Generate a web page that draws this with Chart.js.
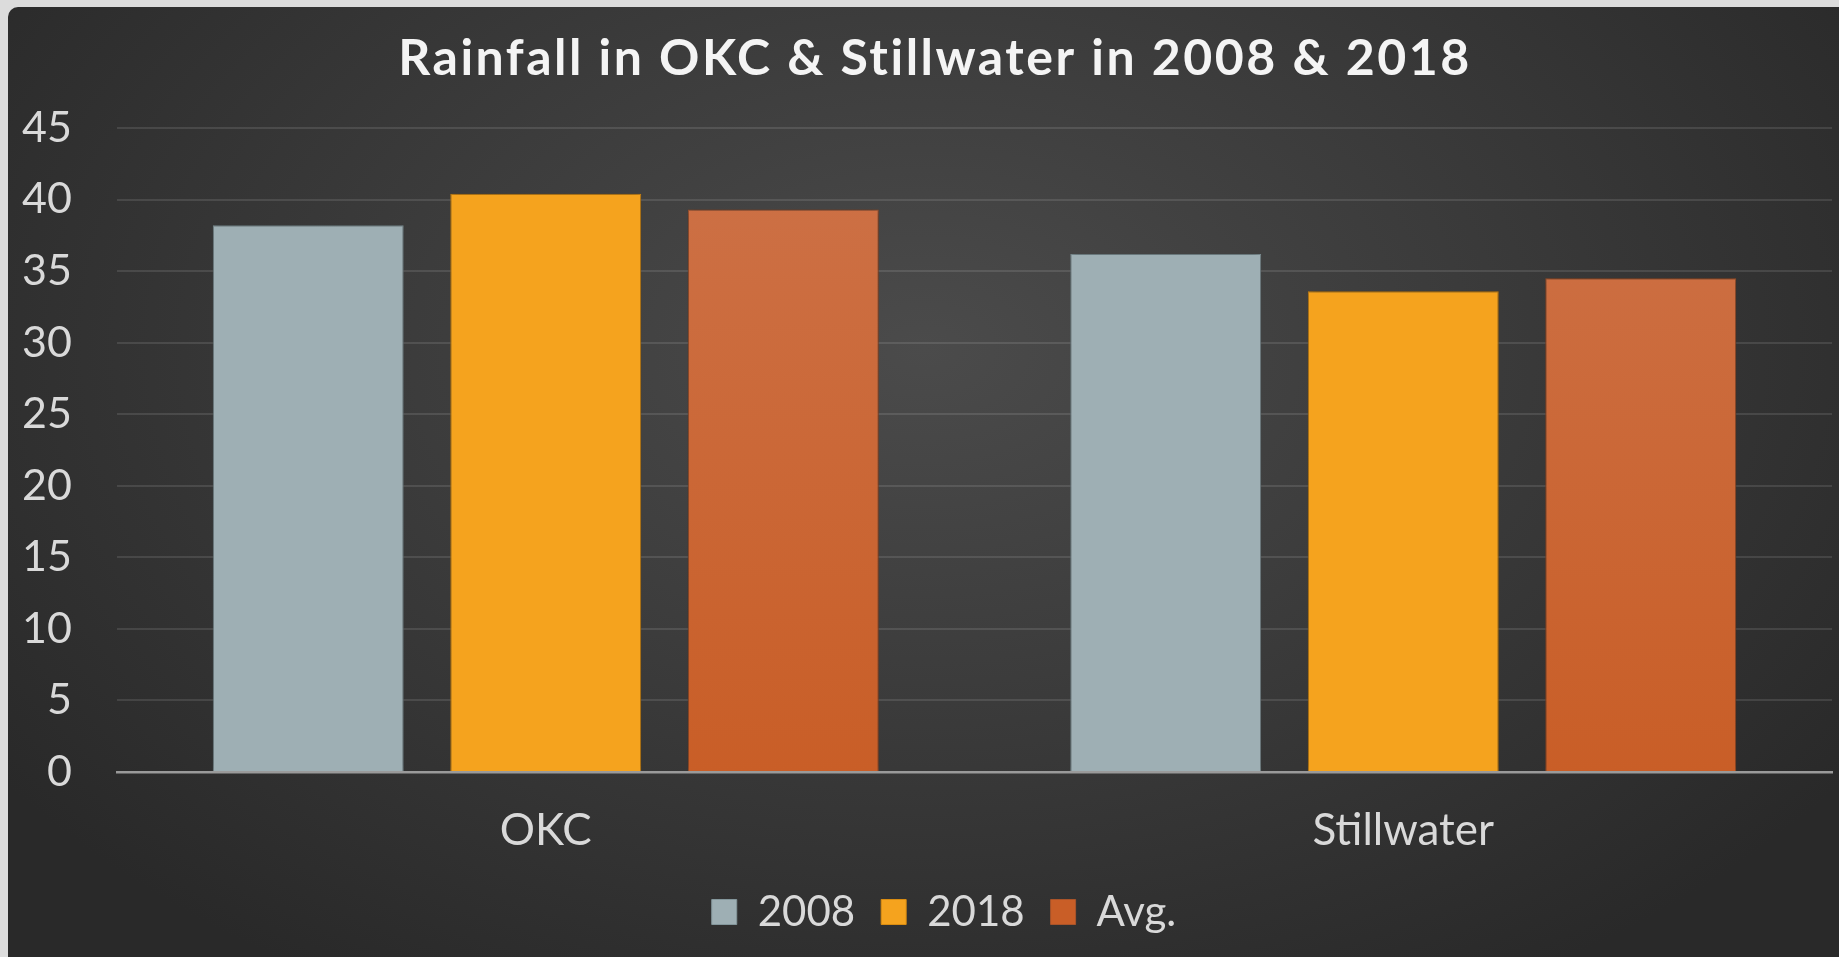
<!DOCTYPE html>
<html>
<head>
<meta charset="utf-8">
<script src="https://cdn.jsdelivr.net/npm/chart.js@4.4.1/dist/chart.umd.min.js"></script>
<style>
  html, body { margin: 0; padding: 0; background: #dcdcdc; overflow: hidden; }
  #panel {
    position: absolute; left: 8px; top: 7px; width: 1831px; height: 950px;
    border-top-left-radius: 10px;
    background: radial-gradient(ellipse 62% 78% at 50% 36%, #4b4b4b 0%, #3c3c3c 45%, #292929 100%);
  }
  canvas { display: block; }
</style>
</head>
<body>
<div id="panel"><canvas id="rain"></canvas></div>
<script>
const cities = ['OKC', 'Stillwater'];
const rain2008 = [38.2, 36.2];
const rain2018 = [40.4, 33.6];
const rainAvg = [39.3, 34.5];
const yMax = 45;
const yStep = 5;

const textFont = 'Lato, "Open Sans", sans-serif';

// avg bars fade a little from top to bottom
function avgFill(context) {
  const area = context.chart.chartArea;
  if (!area) return '#c9612b';
  const g = context.chart.ctx.createLinearGradient(0, area.top, 0, area.bottom);
  g.addColorStop(0, '#cd7248');
  g.addColorStop(1, '#c95e27');
  return g;
}

// wrap a layout box's draw so it is nudged sideways (and optionally letter-spaced)
function nudge(box, dx, spacing) {
  if (!box || box._nudged) return;
  const orig = box.draw;
  box.draw = function(area) {
    const ctx = this.ctx;
    ctx.save();
    ctx.translate(dx, 0);
    if (spacing) ctx.letterSpacing = spacing;
    orig.call(this, area);
    ctx.restore();
  };
  box._nudged = true;
}

const chartTweaks = {
  id: 'chartTweaks',
  beforeDraw(chart) {
    nudge(chart.titleBlock, 10, '2.5px');
    nudge(chart.legend, 19);
  },
  beforeDatasetsDraw(chart) {
    const ctx = chart.ctx;
    ctx.save();
    ctx.shadowColor = 'rgba(0,0,0,0.45)';
    ctx.shadowBlur = 8;
  },
  afterDatasetsDraw(chart) {
    chart.ctx.restore();
  }
};

const canvas = document.getElementById('rain');
canvas.width = 1831;
canvas.height = 950;

new Chart(canvas, {
  type: 'bar',
  data: {
    labels: cities,
    datasets: [
      { label: '2008', data: rain2008, backgroundColor: '#9eafb4', borderColor: '#84979c', borderWidth: 1 },
      { label: '2018', data: rain2018, backgroundColor: '#f5a31e', borderColor: '#d98c12', borderWidth: 1 },
      { label: 'Avg.', data: rainAvg, backgroundColor: avgFill, borderColor: '#a9542a', borderWidth: 1 }
    ]
  },
  plugins: [chartTweaks],
  options: {
    responsive: false,
    animation: false,
    categoryPercentage: 0.831,
    barPercentage: 0.804,
    layout: { padding: { left: 10, right: 7, top: 0, bottom: 14 } },
    plugins: {
      title: {
        display: true,
        text: 'Rainfall in OKC & Stillwater in 2008 & 2018',
        color: '#f4f4f4',
        font: { family: textFont, size: 50, weight: 'bold', lineHeight: 1.2 },
        padding: { top: 22, bottom: 39 }
      },
      legend: {
        position: 'bottom',
        labels: {
          color: '#d9d9d9',
          font: { family: textFont, size: 42 },
          boxWidth: 25,
          boxHeight: 25,
          padding: 26
        }
      },
      tooltip: { enabled: false }
    },
    scales: {
      x: {
        grid: { display: false, drawTicks: false },
        border: { display: true, color: '#9a9a9a', width: 2.5, z: 1 },
        ticks: { color: '#d9d9d9', font: { family: textFont, size: 44 }, padding: 32 },
        afterFit(scale) { scale.height = 93; }
      },
      y: {
        min: 0,
        max: yMax,
        grid: { color: 'rgba(255,255,255,0.11)', lineWidth: 2, drawTicks: false },
        border: { display: false },
        ticks: { stepSize: yStep, color: '#d9d9d9', font: { family: textFont, size: 43 }, padding: 45 },
        afterFit(scale) { scale.width = 99; }
      }
    }
  }
});
</script>
</body>
</html>
